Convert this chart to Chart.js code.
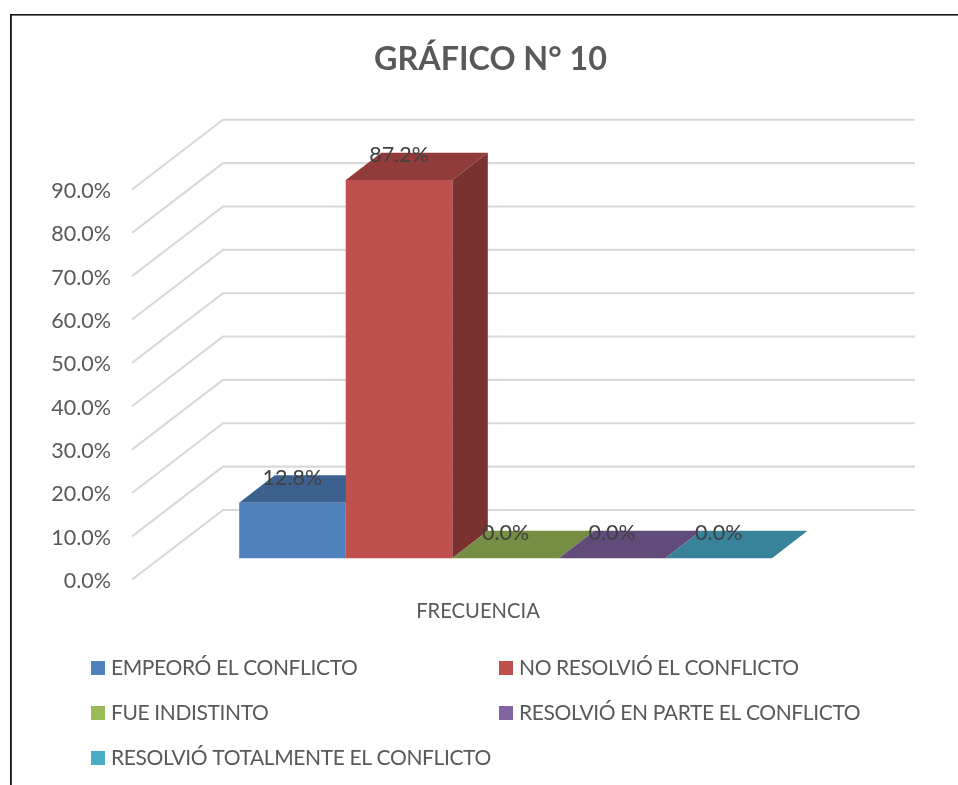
<!DOCTYPE html>
<html lang="es">
<head>
<meta charset="utf-8">
<title>GRÁFICO N° 10</title>
<style>html,body{margin:0;padding:0;background:#fff}canvas{display:block}</style>
<script src="https://cdn.jsdelivr.net/npm/chart.js@4/dist/chart.umd.min.js"></script>
</head>
<body>
<canvas id="c" width="958" height="785"></canvas>
<script>
const categories = ["FRECUENCIA"];
const seriesNames = ["EMPEORÓ EL CONFLICTO","NO RESOLVIÓ EL CONFLICTO","FUE INDISTINTO","RESOLVIÓ EN PARTE EL CONFLICTO","RESOLVIÓ TOTALMENTE EL CONFLICTO"];
const seriesValues = [12.8, 87.2, 0, 0, 0];
const frontColors = ["#4F81BD","#C0504D","#9BBB59","#8064A2","#4BACC6"];
const topColors = ["#3C618F","#913C3A","#758E43","#604B7B","#38829A"];
const sideColors = ["#325177","#7A3230","#627737","#503F67","#2F6D81"];
const TEXT_FONT = '"Lato", sans-serif';
const TEXT_SIZE = 21.5;
const LABEL_SHIFT = 1.5;
const WALL = {dx: 91, dy: -69.7};
const FRONT = {dx: 27.6, dy: -21.5 - LABEL_SHIFT};
const DEPTH = {dx: 35.5, dy: -27.4};
const LEGEND_COLS = [91, 499];
const LEGEND_ROWS = [668, 713, 758];

const wall3d = {
  id: 'wall3d',
  afterLayout(chart){
    chart.titleBlock.left = 23;
    chart.titleBlock.right = 958;
  },
  beforeDatasetsDraw(chart){
    const {ctx, scales:{y}, chartArea:a} = chart;
    ctx.save();
    ctx.strokeStyle = '#D9D9D9';
    ctx.lineWidth = 2.1;
    y.ticks.forEach(t=>{
      const py = y.getPixelForValue(t.value) - LABEL_SHIFT;
      ctx.beginPath();
      ctx.moveTo(a.left, py);
      ctx.lineTo(a.left + WALL.dx, py + WALL.dy);
      ctx.lineTo(a.right + WALL.dx, py + WALL.dy);
      ctx.stroke();
    });
    chart.data.datasets.forEach((ds,i)=>{
      const el = chart.getDatasetMeta(i).data[0];
      const l = el.x - el.width/2 + FRONT.dx, r = el.x + el.width/2 + FRONT.dx;
      const t = el.y + FRONT.dy, b = el.base + FRONT.dy;
      ctx.fillStyle = topColors[i];
      ctx.beginPath();
      ctx.moveTo(l,t); ctx.lineTo(l+DEPTH.dx,t+DEPTH.dy); ctx.lineTo(r+DEPTH.dx,t+DEPTH.dy); ctx.lineTo(r,t);
      ctx.closePath(); ctx.fill();
      ctx.fillStyle = sideColors[i];
      ctx.beginPath();
      ctx.moveTo(r,t); ctx.lineTo(r+DEPTH.dx,t+DEPTH.dy); ctx.lineTo(r+DEPTH.dx,b+DEPTH.dy); ctx.lineTo(r,b);
      ctx.closePath(); ctx.fill();
    });
    ctx.restore();
  },
  beforeDatasetDraw(chart){
    chart.ctx.save();
    chart.ctx.translate(FRONT.dx, FRONT.dy);
  },
  afterDatasetDraw(chart){
    chart.ctx.restore();
  },
  afterDatasetsDraw(chart){
    const {ctx} = chart;
    ctx.save();
    ctx.font = TEXT_SIZE + 'px ' + TEXT_FONT;
    ctx.fillStyle = '#404040';
    ctx.textAlign = 'center';
    ctx.textBaseline = 'middle';
    chart.data.datasets.forEach((ds,i)=>{
      const el = chart.getDatasetMeta(i).data[0];
      ctx.fillText(ds.data[0].toFixed(1)+'%', el.x + FRONT.dx, el.y + FRONT.dy - 25);
    });
    ctx.restore();
  },
  afterDraw(chart){
    const {ctx} = chart;
    ctx.save();
    ctx.fillStyle = '#141414';
    ctx.fillRect(10,14,948,1.6);
    ctx.fillRect(10,14,1.8,771);
    ctx.font = '21px ' + TEXT_FONT;
    ctx.letterSpacing = '-0.38px';
    ctx.textBaseline = 'middle';
    ctx.textAlign = 'left';
    seriesNames.forEach((name,i)=>{
      const x = LEGEND_COLS[i%2], y = LEGEND_ROWS[Math.floor(i/2)];
      ctx.fillStyle = frontColors[i];
      ctx.fillRect(x, y-7, 14, 14);
      ctx.fillStyle = '#595959';
      ctx.fillText(name, x+20, y+0.5);
    });
    ctx.restore();
  }
};

new Chart(document.getElementById('c'), {
  type: 'bar',
  data: {
    labels: categories,
    datasets: seriesNames.map((name,i)=>({
      label: name,
      data: [seriesValues[i]],
      backgroundColor: frontColors[i],
      borderWidth: 0,
      clip: false,
      categoryPercentage: 0.77,
      barPercentage: 1
    }))
  },
  options: {
    responsive: false,
    animation: false,
    layout: {padding: {left:0, top:0, bottom:0, right:134}},
    plugins: {
      legend: {display:false},
      tooltip: {enabled:false},
      title: {
        display: true,
        text: 'GRÁFICO N° 10',
        color: '#595959',
        font: {family: TEXT_FONT, size: 32.3, weight: 'bold', lineHeight: 1.2},
        padding: {top: 40, bottom: 112.2}
      }
    },
    scales: {
      x: {
        grid: {display:false, drawTicks:false},
        border: {display:false},
        ticks: {color:'#595959', font:{family:TEXT_FONT,size:20.2}, padding:18.5, maxRotation:0},
        afterFit(s){ s.height = 203.8; }
      },
      y: {
        min: 0, max: 90,
        grid: {display:false, drawTicks:false},
        border: {display:false},
        ticks: {stepSize:10, color:'#595959', padding:21, font:{family:TEXT_FONT,size:TEXT_SIZE},
          callback: v => v.toFixed(1)+'%'},
        afterFit(s){ s.width = 132; }
      }
    }
  },
  plugins: [wall3d]
});
</script>
</body>
</html>
